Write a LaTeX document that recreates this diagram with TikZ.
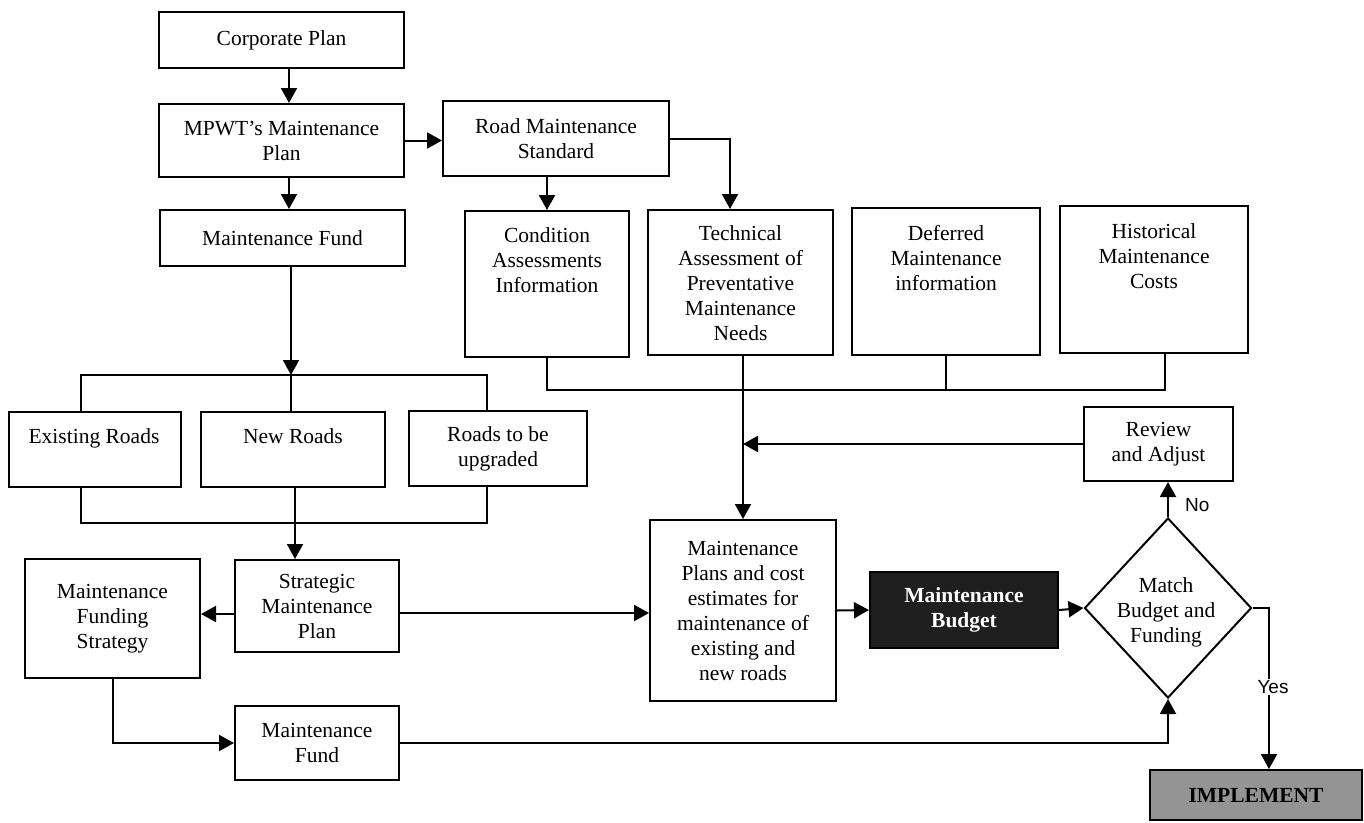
\documentclass[tikz,border=0pt]{standalone}
\usepackage{fontspec}
\setmainfont{Liberation Serif}
\newfontfamily\arialfont{Liberation Sans}
\usetikzlibrary{arrows.meta,shapes.geometric}
\begin{document}
\begin{tikzpicture}[x=1pt,y=-1pt,
  every node/.style={font=\fontsize{21.5pt}{25pt}\selectfont},
  box/.style={draw, line width=2pt, rectangle, inner sep=0pt, align=center},
  txt/.style={inner sep=0pt, align=center},
  conn/.style={line width=2pt},
  arr/.style={line width=2pt, -{Triangle[width=16pt,length=15pt]}},
  yn/.style={font=\arialfont\fontsize{19pt}{22pt}\selectfont, inner sep=1pt}
]
\useasboundingbox (0,0) rectangle (1364,822);
\fill[white] (0,0) rectangle (1364,822);

% top column
\node[box, minimum width=245pt, minimum height=56pt] (corp) at (281.5,40) {Corporate Plan};
\node[box, minimum width=245pt, minimum height=73pt] (mpwt) at (281.5,140.5) {MPWT's Maintenance\\Plan};
\node[box, minimum width=245pt, minimum height=56pt] (fund1) at (282.5,238) {Maintenance Fund};
\node[box, minimum width=226pt, minimum height=75pt] (rms) at (556,138.5) {Road Maintenance\\Standard};

% information boxes
\node[box, minimum width=164pt, minimum height=146pt] (cond) at (547,284) {};
\node[txt, anchor=north] (condt) at (547,227) {Condition\\Assessments\\Information};
\node[box, minimum width=185pt, minimum height=145pt] (tech) at (740.5,282.5) {};
\node[txt, anchor=north] (techt) at (740.5,225) {Technical\\Assessment of\\Preventative\\Maintenance\\Needs};
\node[box, minimum width=188pt, minimum height=147pt] (def) at (946,281.5) {};
\node[txt, anchor=north] (deft) at (946,225) {Deferred\\Maintenance\\information};
\node[box, minimum width=188pt, minimum height=147pt] (hist) at (1154,279.5) {};
\node[txt, anchor=north] (histt) at (1154,223) {Historical\\Maintenance\\Costs};

% road types
\node[box, minimum width=172pt, minimum height=75pt] (exist) at (95,449.5) {};
\node[txt, anchor=north] (existt) at (94,428) {Existing Roads};
\node[box, minimum width=184pt, minimum height=75pt] (newr) at (293,449.5) {};
\node[txt, anchor=north] (newrt) at (293,428) {New Roads};
\node[box, minimum width=178pt, minimum height=75pt] (upg) at (498,448.5) {Roads to be\\upgraded};

% lower left
\node[box, minimum width=175pt, minimum height=119pt] (mfs) at (112.5,618.5) {Maintenance\\Funding\\Strategy};
\node[box, minimum width=164pt, minimum height=92pt] (smp) at (317,606) {Strategic\\Maintenance\\Plan};
\node[box, minimum width=164pt, minimum height=74pt] (fund2) at (317,743) {Maintenance\\Fund};

% lower right
\node[box, minimum width=186pt, minimum height=181pt] (mpc) at (743,610.5) {Maintenance\\Plans and cost\\estimates for\\maintenance of\\existing and\\new roads};
\node[box, fill=black!88, text=white, minimum width=188pt, minimum height=76pt] (budget) at (964,610) {\bfseries Maintenance\\\bfseries Budget};
\node[diamond, draw, line width=2pt, minimum width=167pt, minimum height=180pt, inner sep=0pt] (dia) at (1168,608) {};
\node[txt] (diat) at (1166,612) {Match\\Budget and\\Funding};
\node[box, minimum width=149pt, minimum height=74pt] (review) at (1158.5,444) {Review\\and Adjust};
\node[box, fill=black!42, minimum width=212pt, minimum height=50pt] (impl) at (1256,795) {\bfseries IMPLEMENT};

% coordinates
\coordinate (col1) at (289,0);
\coordinate (bus1) at (291,375);
\coordinate (bx1) at (81,375);
\coordinate (bx3) at (487,375);
\coordinate (bb1) at (81,523);
\coordinate (bb2) at (295,523);
\coordinate (bb3) at (487,523);
\coordinate (cb1) at (547,390);
\coordinate (cb4) at (1165,390);
\coordinate (tcol) at (730,0);
\coordinate (ycol) at (1269,0);

% connectors top
\draw[arr] (corp.south -| col1) -- (mpwt.north -| col1);
\draw[arr] (mpwt.south -| col1) -- (fund1.north -| col1);
\draw[arr] (mpwt.east) -- (mpwt.east -| rms.west);
\draw[arr] (rms.south -| cond.north) -- (cond.north);
\draw[arr] (rms.east) -| (tech.north -| tcol);

% bus to road types
\draw[arr] (fund1.south -| bus1) -- (bus1);
\draw[conn] (exist.north -| bx1) -- (bx1) -- (bx3) -- (upg.north -| bx3);
\draw[conn] (bus1) -- (newr.north -| bus1);
\draw[conn] (exist.south -| bb1) -- (bb1) -- (bb3) -- (upg.south -| bb3);
\draw[conn] (newr.south -| bb2) -- (bb2);
\draw[arr] (bb2) -- (smp.north -| bb2);

% info collection
\draw[conn] (cond.south) -- (cb1) -- (cb4) -- (hist.south -| cb4);
\draw[conn] (def.south) -- (def.south |- cb1);
\draw[arr] (tech.south -| mpc.north) -- (mpc.north);
\draw[arr] (review.west) -- (review.west -| mpc.north);

% strategic plan
\draw[arr] ([yshift=-8pt]smp.west) -- ([yshift=-8pt]smp.west -| mfs.east);
\draw[arr] ([yshift=-7pt]smp.east) -- ([yshift=-7pt]smp.east -| mpc.west);
\draw[arr] (mfs.south) |- (fund2.west);
\draw[arr] (fund2.east) -| (dia.south);

% right side
\draw[arr] (mpc.east) -- (budget.west);
\draw[arr] (budget.east) -- (dia.west);
\draw[arr] (dia.north) -- (dia.north |- review.south);
\node[yn, anchor=west] (no) at (1184,505) {No};
\draw[arr] (dia.east) -| (impl.north -| ycol);
\node[yn, fill=white] (yes) at (1273,687) {Yes};
\end{tikzpicture}
\end{document}
